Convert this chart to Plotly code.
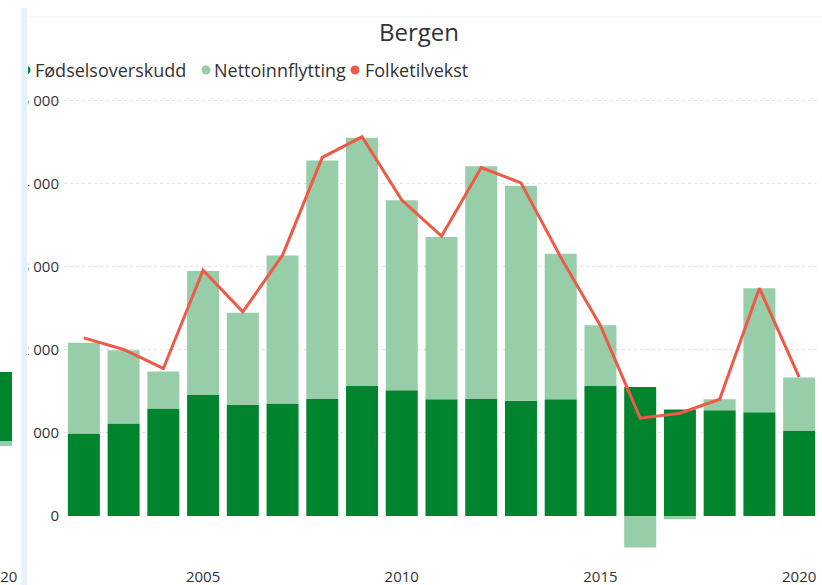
import plotly.graph_objects as go

# Bergen: births surplus + net migration (stacked) and total growth (line)
years = list(range(2002, 2021))
fodsel = [992, 1112, 1292, 1456, 1336, 1353, 1408, 1564, 1513, 1404,
          1408, 1386, 1404, 1564, 1552, 1280, 1272, 1248, 1023]
netto = [1090, 882, 446, 1492, 1107, 1781, 2869, 2985, 2286, 1953,
         2800, 2585, 1749, 731, -380, -40, 132, 1492, 642]
tilvekst = [2142, 2002, 1774, 2957, 2455, 3137, 4313, 4561, 3799, 3366,
            4190, 4007, 3113, 2289, 1176, 1236, 1404, 2740, 1669]
x_ticks = [2005, 2010, 2015, 2020]
y_ticks = [0, 1000, 2000, 3000, 4000, 5000]

DARK = "#00852e"
LIGHT = "#97cea9"
RED = "#ee5a48"
TXT = "#333333"

W, H = 822, 585
L, R, T, B = 64, 3, 92, 30
PW, PH = W - L - R, H - T - B


def px(x):  # pixel -> paper x
    return (x - L) / PW


def py(y):  # pixel (from top) -> paper y
    return 1 - (y - T) / PH


fig = go.Figure()
fig.add_trace(go.Bar(x=years, y=fodsel, name="Fødselsoverskudd", marker_color=DARK, marker_line_width=0))
fig.add_trace(go.Bar(x=years, y=netto, name="Nettoinnflytting", marker_color=LIGHT, marker_line_width=0))
fig.add_trace(go.Scatter(x=years, y=tilvekst, name="Folketilvekst", mode="lines",
                         line=dict(color=RED, width=3)))

# legend drawn by hand (round dots close to the text, like the original)
legend_items = [("Fødselsoverskudd", DARK, 26, 33),
                ("Nettoinnflytting", LIGHT, 206, 212),
                ("Folketilvekst", RED, 355, 363)]
shapes = []
annotations = []
for name, col, dot_x, txt_x in legend_items:
    shapes.append(dict(type="circle", xref="paper", yref="paper",
                       xsizemode="pixel", ysizemode="pixel",
                       xanchor=px(dot_x), yanchor=py(70),
                       x0=-4.5, x1=4.5, y0=-4.5, y1=4.5,
                       fillcolor=col, line_width=0, layer="above"))
    annotations.append(dict(text=name, xref="paper", yref="paper",
                            x=px(txt_x), y=py(70), xanchor="left", yanchor="middle",
                            showarrow=False, font=dict(size=18, color=TXT)))

# left edge: panel border and a slice of the neighbouring visual
shapes += [
    dict(type="rect", xref="paper", yref="paper", x0=px(-2), x1=px(28), y0=py(H + 2), y1=py(-2),
         fillcolor="white", line_width=0, layer="above"),
    dict(type="rect", xref="paper", yref="paper", x0=px(21.5), x1=px(27), y0=py(H + 2), y1=py(8),
         fillcolor="#e6f0fa", line_width=0, layer="above"),
    dict(type="rect", xref="paper", yref="paper", x0=px(-2), x1=px(12), y0=py(441), y1=py(372),
         fillcolor=DARK, line_width=0, layer="above"),
    dict(type="rect", xref="paper", yref="paper", x0=px(-2), x1=px(12), y0=py(446), y1=py(441),
         fillcolor=LIGHT, line_width=0, layer="above"),
    dict(type="line", xref="paper", yref="paper", x0=px(27), x1=px(W), y0=py(17), y1=py(17),
         line=dict(color="#f0f0f0", width=1), layer="above"),
]
annotations.append(dict(text="2020", xref="paper", yref="paper", x=px(19), y=py(576),
                        xanchor="right", yanchor="middle", showarrow=False,
                        font=dict(size=15, color=TXT)))

fig.update_layout(
    width=W, height=H,
    margin=dict(l=L, r=R, t=T, b=B, pad=0),
    paper_bgcolor="white", plot_bgcolor="white",
    font=dict(family="Open Sans", color=TXT),
    separators=", ",
    barmode="relative", bargap=0.195,
    showlegend=False,
    title=dict(text="Bergen", xref="container", yref="container",
               x=419 / W, y=1 - 33 / H, xanchor="center", yanchor="middle",
               font=dict(size=24, color=TXT)),
    shapes=shapes,
    annotations=annotations,
)
fig.update_xaxes(range=[2001.5, 2020.5], tickvals=x_ticks, showgrid=False, zeroline=False,
                 showline=False, ticks="outside", ticklen=8, tickcolor="rgba(0,0,0,0)",
                 automargin=False, tickfont=dict(size=15, color=TXT))
fig.update_yaxes(range=[-470, 5100], tickvals=y_ticks, tickformat=",d",
                 showgrid=True, gridcolor="#e2e2e2", griddash="dot", gridwidth=1,
                 zeroline=True, zerolinecolor="rgba(0,0,0,0)", showline=False,
                 ticks="", ticklabelstandoff=4, automargin=False,
                 tickfont=dict(size=15, color=TXT))

# drop the default body margin so the figure sits at the page corner
fig.write_html("out.html", config={"displayModeBar": False},
               post_script="document.body.style.margin='0';")
